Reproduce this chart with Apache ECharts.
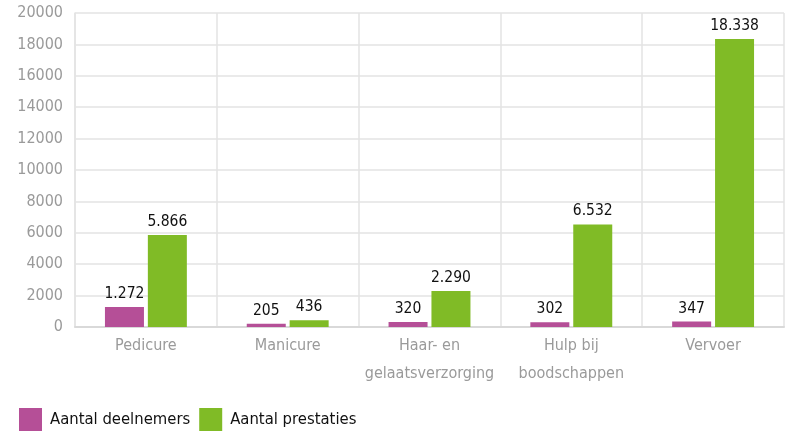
<!DOCTYPE html>
<html><head><meta charset="utf-8">
<script src="https://cdn.jsdelivr.net/npm/echarts@6/dist/echarts.min.js"></script>
<style>html,body{margin:0;padding:0;background:#fff}#c{width:787px;height:435px}</style>
</head><body><div id="c"></div>
<script>
const categories = ['Pedicure', 'Manicure', 'Haar- en\ngelaatsverzorging', 'Hulp bij\nboodschappen', 'Vervoer'];
const deelnemers = [1272, 205, 320, 302, 347];
const prestaties = [5866, 436, 2290, 6532, 18338];
const yTicks = [0, 2000, 4000, 6000, 8000, 10000, 12000, 14000, 16000, 18000, 20000];
const FONT = '"DejaVu Sans Condensed", "Liberation Sans", sans-serif';
const fmt = v => v.toLocaleString('de-DE');
const chart = echarts.init(document.getElementById('c'));
chart.setOption({
  animation: false,
  textStyle: { fontFamily: FONT },
  grid: { left: 75, right: 3, top: 13, bottom: 108, containLabel: false },
  legend: {
    left: 19, bottom: 4, padding: 0, itemWidth: 23, itemHeight: 23, itemGap: 9,
    icon: 'rect',
    textStyle: { fontFamily: FONT, fontSize: 16.5, color: '#111', padding: [0, 0, 0, 3] },
    data: ['Aantal deelnemers', 'Aantal prestaties']
  },
  xAxis: {
    type: 'category', data: categories,
    axisLine: { lineStyle: { color: '#d9d9d9', width: 2 } },
    axisTick: { show: false },
    splitLine: { show: true, lineStyle: { color: '#e3e3e3', width: 1.5 } },
    axisLabel: { color: '#9a9a9a', fontSize: 16, fontFamily: FONT, lineHeight: 28, margin: 5, interval: 0 }
  },
  yAxis: {
    type: 'value', min: yTicks[0], max: yTicks[yTicks.length - 1], interval: 2000,
    axisLine: { show: true, lineStyle: { color: '#e3e3e3', width: 1.5 } },
    axisTick: { show: false },
    splitLine: { lineStyle: { color: '#e3e3e3', width: 1.5 } },
    axisLabel: { color: '#9a9a9a', fontSize: 16, fontFamily: FONT, margin: 12, formatter: v => String(v) }
  },
  series: [
    {
      name: 'Aantal deelnemers', type: 'bar', data: deelnemers, barWidth: 39, barGap: '10%',
      itemStyle: { color: '#b54f97' },
      label: { show: true, position: 'top', color: '#111', fontSize: 15.5, fontFamily: FONT, distance: 5, formatter: p => fmt(p.value) }
    },
    {
      name: 'Aantal prestaties', type: 'bar', data: prestaties, barWidth: 39,
      itemStyle: { color: '#80bb26' },
      label: { show: true, position: 'top', color: '#111', fontSize: 15.5, fontFamily: FONT, distance: 5, formatter: p => fmt(p.value) }
    }
  ]
});
</script></body></html>
